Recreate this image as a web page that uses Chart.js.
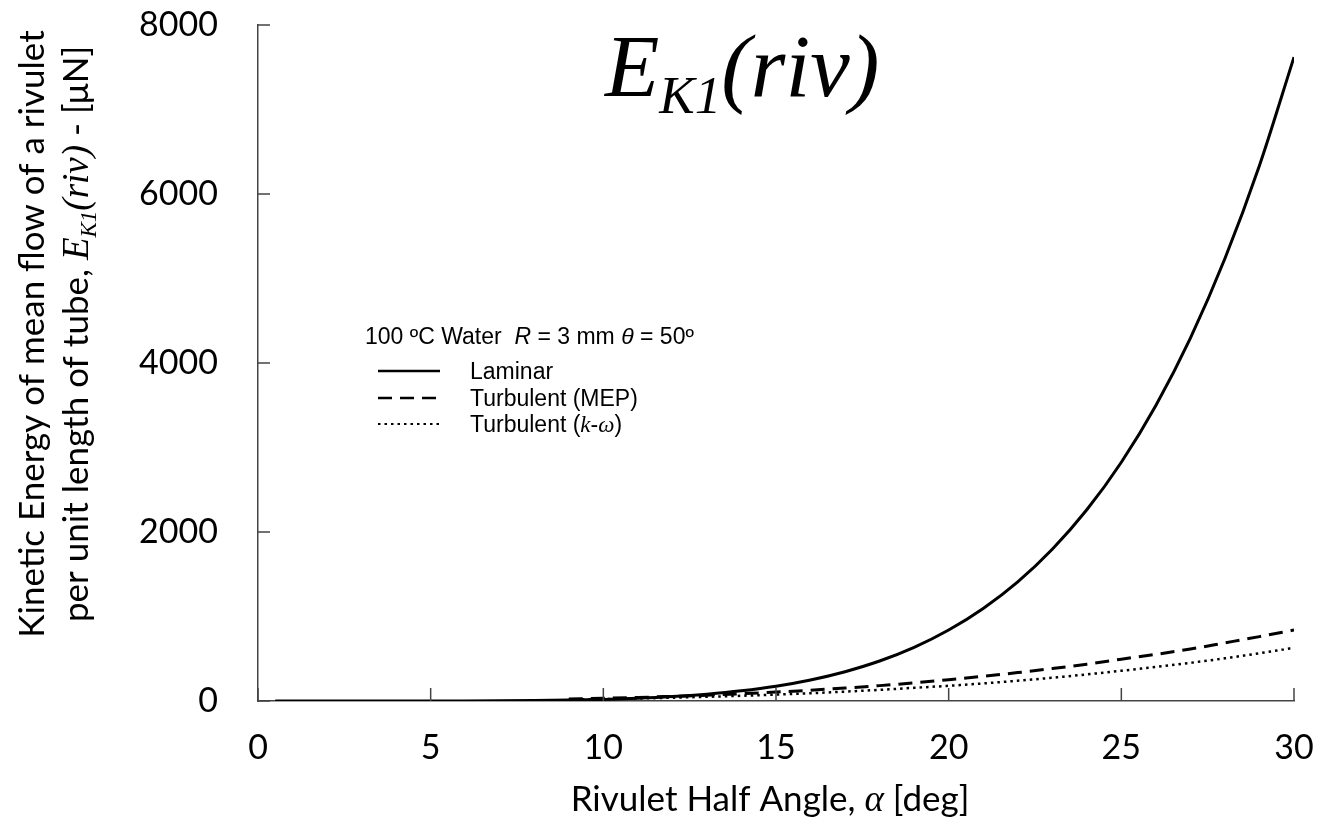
<!DOCTYPE html>
<html>
<head>
<meta charset="utf-8">
<script src="https://cdn.jsdelivr.net/npm/chart.js@4.4.0/dist/chart.umd.min.js"></script>
<style>
  html, body { margin: 0; padding: 0; background: #fff; }
  #wrap { width: 1328px; height: 821px; }
</style>
</head>
<body>
<div id="wrap"><canvas id="myChart" width="1328" height="821"></canvas></div>
<script>
// rivulet half angle [deg] and kinetic energy [uN]
var angles = [0.5, 1, 2, 3, 4, 5, 6, 7, 8, 9, 10, 11, 12, 13, 14, 15, 16, 17, 18, 19, 20, 21, 22, 23, 24, 25, 26, 27, 28, 29, 30];
var laminar = [0, 0, 0, 0.1, 0.2, 0.5, 1, 3, 6, 11, 19, 32, 52, 81, 121, 175, 249, 347, 473, 635, 840, 1095, 1410, 1796, 2263, 2826, 3498, 4295, 5236, 6337, 7620];

var turbAngles = [9, 10, 11, 12, 13, 14, 15, 16, 17, 18, 19, 20, 21, 22, 23, 24, 25, 26, 27, 28, 29, 30];
var turbMEP = [23, 32, 42, 55, 69, 86, 106, 128, 153, 182, 215, 252, 292, 336, 384, 436, 495, 552, 615, 688, 762, 840];
var turbKW = [17, 23, 30, 39, 50, 62, 76, 92, 111, 132, 156, 180, 208, 240, 275, 315, 358, 403, 452, 505, 565, 630];

var seriesNames = ['Laminar', 'Turbulent (MEP)', 'Turbulent ('];
var xTicks = [0, 5, 10, 15, 20, 25, 30];
var yTicks = [0, 2000, 4000, 6000, 8000];

var SANS = 'Lato';
var SERIF = '"Liberation Serif"';
var ARIAL = '"Liberation Sans"';
var AXIS_COLOR = '#444';

function pts(xs, ys) {
    var out = [];
    for (var i = 0; i < xs.length; i++) out.push({x: xs[i], y: ys[i]});
    return out;
}

// draw a row of text pieces with their own fonts
function drawRuns(ctx, runs, x, y, align) {
    var total = 0;
    runs.forEach(function(r) {
        ctx.font = r.font;
        r.w = ctx.measureText(r.text).width;
        total += r.w;
    });
    var cx = align === 'center' ? x - total / 2 : x;
    ctx.textAlign = 'left';
    ctx.textBaseline = 'alphabetic';
    runs.forEach(function(r) {
        ctx.font = r.font;
        ctx.fillText(r.text, cx, y + (r.dy || 0));
        cx += r.w;
    });
}

var decorations = {
    id: 'decorations',
    afterDraw: function(chart) {
        var ctx = chart.ctx;
        var xs = chart.scales.x, ys = chart.scales.y;
        var area = chart.chartArea;
        ctx.save();

        // inward tick marks
        ctx.strokeStyle = AXIS_COLOR;
        ctx.lineWidth = 1.5;
        ctx.beginPath();
        xTicks.forEach(function(v) {
            var px = xs.getPixelForValue(v);
            ctx.moveTo(px, area.bottom);
            ctx.lineTo(px, area.bottom - 13);
        });
        yTicks.forEach(function(v) {
            var py = ys.getPixelForValue(v);
            ctx.moveTo(area.left, py);
            ctx.lineTo(area.left + 12, py);
        });
        ctx.stroke();

        ctx.fillStyle = '#000';

        // title
        drawRuns(ctx, [
            {text: 'E', font: 'italic 89px ' + SERIF},
            {text: 'K1', font: 'italic 53px ' + SERIF, dy: 17},
            {text: '(riv)', font: 'italic 89px ' + SERIF}
        ], 605, 96, 'left');

        // x axis title
        drawRuns(ctx, [
            {text: 'Rivulet Half Angle, ', font: '35px ' + SANS},
            {text: '\u03b1', font: 'italic 37px ' + SERIF},
            {text: ' [deg]', font: '35px ' + SANS}
        ], 770, 811, 'center');

        // y axis title, two lines
        ctx.save();
        ctx.translate(0, 334);
        ctx.rotate(-Math.PI / 2);
        drawRuns(ctx, [{text: 'Kinetic Energy of mean flow of a rivulet', font: '35px ' + SANS}], 0, 44, 'center');
        drawRuns(ctx, [
            {text: 'per unit length of tube, ', font: '35px ' + SANS},
            {text: 'E', font: 'italic 37px ' + SERIF},
            {text: 'K1', font: 'italic 23px ' + SERIF, dy: 8},
            {text: '(riv)', font: 'italic 37px ' + SERIF},
            {text: ' - [\u03bcN]', font: '35px ' + SANS}
        ], 0, 88, 'center');
        ctx.restore();

        // legend
        drawRuns(ctx, [
            {text: '100 \u00baC Water  ', font: '23px ' + ARIAL},
            {text: 'R', font: 'italic 23px ' + ARIAL},
            {text: ' = 3 mm ', font: '23px ' + ARIAL},
            {text: '\u03b8', font: 'italic 23px ' + ARIAL},
            {text: ' = 50\u00ba', font: '23px ' + ARIAL}
        ], 365, 344, 'left');

        var rowY = [379, 406, 432];
        chart.data.datasets.forEach(function(ds, i) {
            var y = rowY[i];
            ctx.save();
            ctx.strokeStyle = ds.borderColor;
            ctx.lineWidth = ds.borderWidth - 0.5;
            ctx.setLineDash(ds.borderDash || []);
            ctx.beginPath();
            ctx.moveTo(378, y - 8);
            ctx.lineTo(440, y - 8);
            ctx.stroke();
            ctx.restore();
            var runs = [{text: seriesNames[i], font: '23px ' + ARIAL}];
            if (i === 2) {
                runs.push({text: 'k', font: 'italic 23px ' + SERIF});
                runs.push({text: '-', font: '23px ' + ARIAL});
                runs.push({text: '\u03c9', font: 'italic 23px ' + SERIF});
                runs.push({text: ')', font: '23px ' + ARIAL});
            }
            drawRuns(ctx, runs, 470, y, 'left');
        });

        ctx.restore();
    }
};

var chartData = {
    datasets: [
        {
            label: 'Laminar',
            data: pts(angles, laminar),
            borderColor: '#000',
            borderWidth: 3,
            pointRadius: 0,
            cubicInterpolationMode: 'monotone'
        },
        {
            label: 'Turbulent (MEP)',
            data: pts(turbAngles, turbMEP),
            borderColor: '#000',
            borderWidth: 3,
            borderDash: [14, 8],
            pointRadius: 0,
            cubicInterpolationMode: 'monotone'
        },
        {
            label: 'Turbulent (k-omega)',
            data: pts(turbAngles, turbKW),
            borderColor: '#000',
            borderWidth: 2.5,
            borderDash: [2.5, 4],
            pointRadius: 0,
            cubicInterpolationMode: 'monotone'
        }
    ]
};

var myChart = new Chart(document.getElementById('myChart'), {
    type: 'line',
    data: chartData,
    options: {
        responsive: false,
        animation: false,
        devicePixelRatio: 1,
        layout: { padding: { top: 25, right: 34, left: 0, bottom: 0 } },
        plugins: {
            legend: { display: false },
            tooltip: { enabled: false }
        },
        scales: {
            x: {
                type: 'linear',
                min: 0,
                max: 30,
                afterFit: function(scale) {
                    scale.height = 120;
                    scale.paddingLeft = 0;
                    scale.paddingRight = 0;
                },
                afterBuildTicks: function(scale) {
                    scale.ticks = xTicks.map(function(v) { return {value: v}; });
                },
                ticks: {
                    color: '#000',
                    font: { family: SANS, size: 34 },
                    padding: 27,
                    maxRotation: 0
                },
                grid: { display: true, drawOnChartArea: false, drawTicks: false },
                border: { display: true, color: AXIS_COLOR, width: 1.5 }
            },
            y: {
                min: 0,
                max: 8000,
                afterFit: function(scale) {
                    scale.width = 258;
                    scale.paddingTop = 0;
                    scale.paddingBottom = 0;
                },
                afterBuildTicks: function(scale) {
                    scale.ticks = yTicks.map(function(v) { return {value: v}; });
                },
                ticks: {
                    color: '#000',
                    font: { family: SANS, size: 34 },
                    padding: 40,
                    callback: function(v) { return String(v); }
                },
                grid: { display: true, drawOnChartArea: false, drawTicks: false },
                border: { display: true, color: AXIS_COLOR, width: 1.5 }
            }
        }
    },
    plugins: [decorations]
});
</script>
</body>
</html>
